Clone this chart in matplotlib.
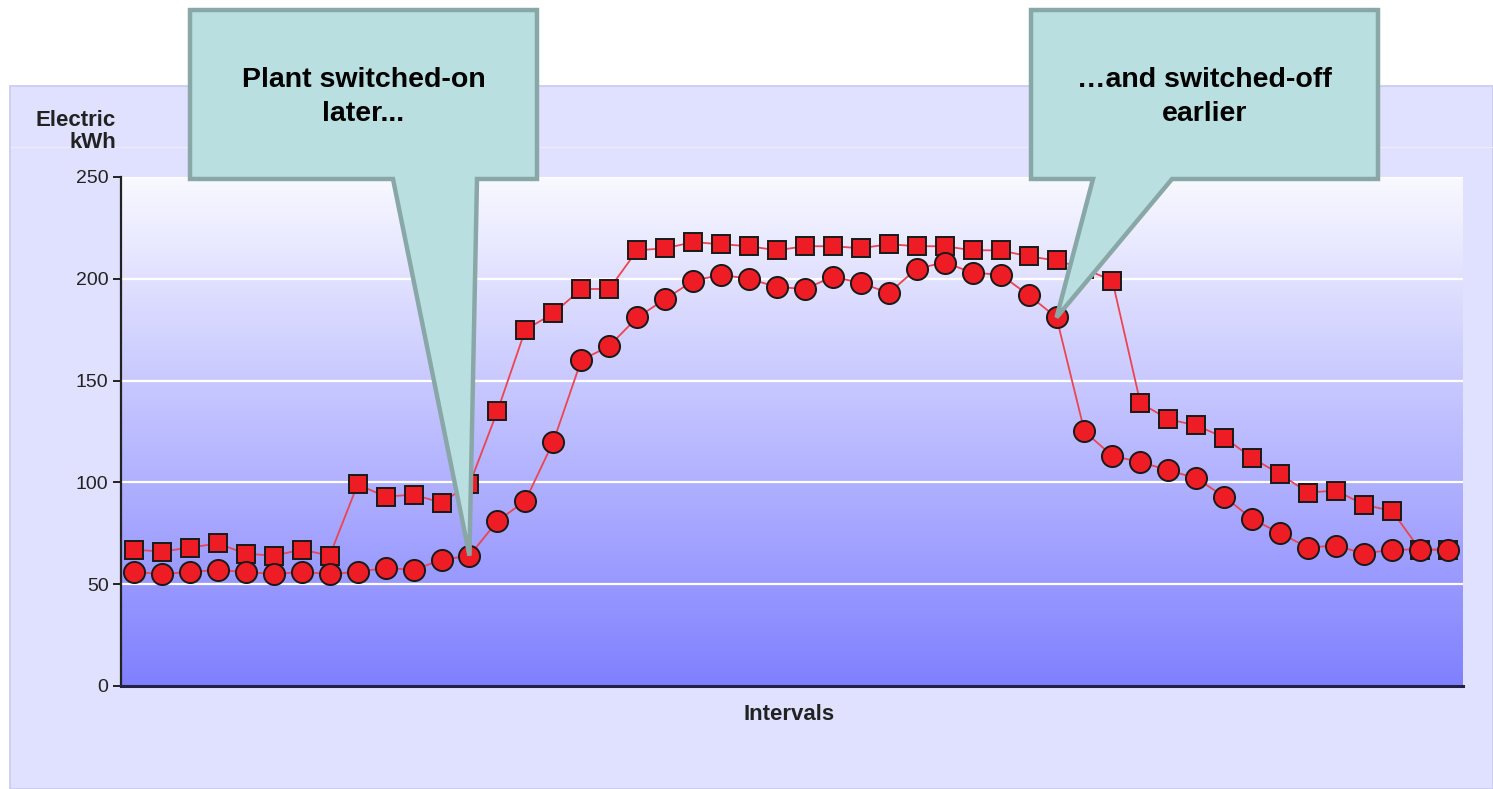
import numpy as np
import matplotlib
matplotlib.use("Agg")
import matplotlib.pyplot as plt
from matplotlib.patches import Rectangle, Polygon
from matplotlib.colors import LinearSegmentedColormap

plt.rcParams['font.family'] = ['Liberation Sans', 'DejaVu Sans']

# ---- data ----
intervals = list(range(1, 49))
series_square = [67, 66, 68, 70, 65, 64, 67, 64, 99, 93, 94, 90, 99, 135, 175, 183,
                 195, 195, 214, 215, 218, 217, 216, 214, 216, 216, 215, 217, 216, 216,
                 214, 214, 211, 209, 205, 199, 139, 131, 128, 122, 112, 104, 95, 96,
                 89, 86, 67, 67]
series_circle = [56, 55, 56, 57, 56, 55, 56, 55, 56, 58, 57, 62, 64, 81, 91, 120,
                 160, 167, 181, 190, 199, 202, 200, 196, 195, 201, 198, 193, 205, 208,
                 203, 202, 192, 181, 125, 113, 110, 106, 102, 93, 82, 75, 68, 69,
                 65, 67, 67, 67]
y_ticks = [0, 50, 100, 150, 200, 250]
y_label = "Electric\nkWh"
x_label = "Intervals"
callout_1 = "Plant switched-on\nlater..."
callout_2 = "…and switched-off\nearlier"
callout_1_index = 12   # point the first callout points at (circle series)
callout_2_index = 33   # point the second callout points at (circle series)

W, H = 1493, 789
fig = plt.figure(figsize=(W / 100, H / 100), dpi=100)
fig.patch.set_facecolor('white')

def fx(x):
    return x / W

def fy(y):
    return 1 - y / H

# outer panel
fig.add_artist(Rectangle((fx(10), 0), 1 - fx(10), fy(86), transform=fig.transFigure,
                         facecolor='#e0e0ff', edgecolor='#c9c9f2', lw=1.2, zorder=-5))
fig.add_artist(plt.Line2D([fx(11), 1], [fy(147), fy(147)], transform=fig.transFigure,
                          color='#ececff', lw=1.0, zorder=-4))

# axes
L, R, T, B = 121, 1463, 177, 686
ax = fig.add_axes([fx(L), fy(B), fx(R) - fx(L), (B - T) / H])
ax.set_zorder(1)
x = np.arange(len(intervals))
xlim = (-0.465, 47.54)
ylim = (0, 250)
ax.set_xlim(*xlim)
ax.set_ylim(*ylim)

cmap = LinearSegmentedColormap.from_list('bg', ['#8080ff', '#f9f9ff'])
grad = np.linspace(0, 1, 256).reshape(-1, 1)
ax.imshow(grad, extent=[xlim[0], xlim[1], ylim[0], ylim[1]], origin='lower',
          aspect='auto', cmap=cmap, zorder=0, interpolation='bicubic')

for t in y_ticks[1:]:
    ax.axhline(t, color='white', lw=1.6, zorder=1)

line_kw = dict(color='#ec4452', lw=1.3, markerfacecolor='#ee1c25',
               markeredgecolor='#1a1a1a', markeredgewidth=1.4, zorder=3)
ax.plot(x, series_square, marker='s', markersize=13.3, **line_kw)
ax.plot(x, series_circle, marker='o', markersize=15.2, **line_kw)

ax.set_yticks(y_ticks)
ax.set_xticks([])
ax.tick_params(axis='y', direction='out', length=6, width=1.4, color='#222222',
               labelsize=14, labelcolor='#222222', pad=3)
for s in ['top', 'right']:
    ax.spines[s].set_visible(False)
ax.spines['left'].set_color('#222222')
ax.spines['left'].set_linewidth(1.6)
ax.spines['bottom'].set_color('#222244')
ax.spines['bottom'].set_linewidth(2.2)

fig.text(fx(116), fy(131.5), y_label, ha='right', va='center', ma='right',
         fontsize=16, fontweight='bold', color='#222222', linespacing=1.12)
fig.text(fx(789), fy(714), x_label, ha='center', va='center',
         fontsize=16, fontweight='bold', color='#222222')

# callouts
def tip_fig(i, v):
    disp = ax.transData.transform((x[i], v))
    return fig.transFigure.inverted().transform(disp)

def callout(box, base, tip, text):
    l, t, r, b = box
    verts = [(fx(l), fy(t)), (fx(r), fy(t)), (fx(r), fy(b)), (fx(base[1]), fy(b)),
             tuple(tip), (fx(base[0]), fy(b)), (fx(l), fy(b))]
    fig.add_artist(Polygon(verts, closed=True, transform=fig.transFigure,
                           facecolor='#b9dfe1', edgecolor='#89a7a7', lw=3.2,
                           joinstyle='miter', zorder=10))
    fig.text(fx((l + r) / 2), fy(97), text, ha='center', va='center',
             fontsize=20.5, fontweight='bold', color='black', linespacing=1.36,
             zorder=11)

callout((190, 10, 537, 179), (393, 477),
        tip_fig(callout_1_index, series_circle[callout_1_index]), callout_1)
callout((1031, 10, 1378, 179), (1093, 1172),
        tip_fig(callout_2_index, series_circle[callout_2_index]), callout_2)

fig.savefig('out.png', dpi=100)
